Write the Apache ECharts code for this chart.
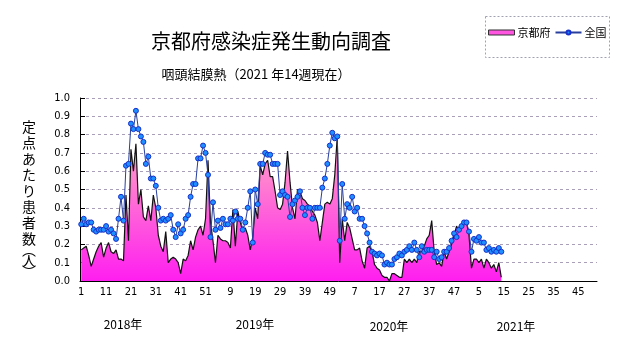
<!DOCTYPE html>
<html>
<head>
<meta charset="utf-8">
<script src="https://cdn.jsdelivr.net/npm/echarts@6/dist/echarts.min.js"></script>
<style>
html,body{margin:0;padding:0;background:#fff;}
#c{width:631px;height:347px;}
</style>
</head>
<body>
<div id="c"></div>
<script>
// ---- data ----
const years = [2018, 2019, 2020, 2021];
const weeksPerYear = 52;
const yearLabels = ['2018年', '2019年', '2020年', '2021年'];
const titleText = '京都府感染症発生動向調査';
const subtitleText = '咽頭結膜熱（2021 年14週現在）';
const yAxisName = '定点あたり患者数︵人︶';
const seriesNames = ['京都府', '全国'];

const kyoto = [
0.17,0.18,0.19,0.14,0.08,0.12,0.16,0.19,0.21,0.13,
0.18,0.21,0.16,0.15,0.17,0.12,0.12,0.11,0.47,0.22,
0.72,0.60,0.75,0.42,0.50,0.35,0.33,0.41,0.33,0.47,
0.40,0.25,0.19,0.16,0.27,0.10,0.12,0.13,0.12,0.10,
0.04,0.12,0.11,0.14,0.22,0.17,0.24,0.28,0.30,0.25,
0.34,0.66,0.32,0.22,0.10,0.25,0.23,0.22,0.22,0.21,
0.18,0.39,0.19,0.38,0.32,0.27,0.29,0.25,0.17,0.24,
0.40,0.34,0.63,0.58,0.64,0.66,0.57,0.57,0.49,0.40,
0.39,0.42,0.54,0.71,0.54,0.40,0.34,0.50,0.49,0.45,
0.44,0.42,0.41,0.38,0.36,0.32,0.22,0.32,0.42,0.43,
0.42,0.45,0.58,0.79,0.10,0.34,0.22,0.32,0.29,0.23,
0.17,0.17,0.18,0.11,0.07,0.18,0.19,0.16,0.09,0.07,
0.06,0.03,0.02,0.02,0.00,0.04,0.04,0.03,0.02,0.02,
0.12,0.10,0.12,0.10,0.12,0.10,0.16,0.16,0.19,0.23,
0.25,0.33,0.16,0.09,0.10,0.08,0.16,0.12,0.16,0.20,
0.25,0.30,0.27,0.31,0.33,0.32,0.25,0.07,0.12,0.12,
0.10,0.12,0.07,0.12,0.10,0.07,0.09,0.05,0.10,0.02
];

const national = [
0.31,0.34,0.31,0.32,0.32,0.28,0.27,0.28,0.28,0.28,
0.30,0.27,0.28,0.26,0.23,0.34,0.46,0.33,0.63,0.64,
0.86,0.83,0.93,0.83,0.79,0.76,0.64,0.68,0.56,0.56,
0.52,0.40,0.33,0.34,0.33,0.34,0.36,0.28,0.24,0.31,
0.26,0.28,0.34,0.36,0.46,0.53,0.53,0.67,0.67,0.74,
0.70,0.58,0.24,0.43,0.28,0.33,0.29,0.34,0.31,0.31,
0.34,0.33,0.38,0.34,0.34,0.28,0.32,0.40,0.49,0.21,
0.50,0.42,0.64,0.64,0.70,0.69,0.69,0.64,0.64,0.64,
0.47,0.49,0.47,0.46,0.35,0.42,0.44,0.46,0.49,0.40,
0.36,0.40,0.40,0.34,0.40,0.40,0.40,0.51,0.56,0.64,
0.74,0.81,0.78,0.79,0.22,0.53,0.34,0.42,0.40,0.46,
0.38,0.40,0.34,0.34,0.30,0.26,0.21,0.16,0.15,0.14,
0.15,0.14,0.09,0.10,0.09,0.09,0.12,0.13,0.15,0.14,
0.16,0.17,0.19,0.17,0.21,0.17,0.13,0.19,0.16,0.17,
0.17,0.17,0.13,0.16,0.12,0.13,0.16,0.16,0.18,0.22,
0.26,0.24,0.28,0.30,0.32,0.32,0.27,0.16,0.23,0.22,
0.24,0.21,0.21,0.17,0.18,0.16,0.17,0.16,0.18,0.16
];

// category labels: week numbers for each year
const categories = [];
years.forEach(function(){ for (let w = 1; w <= weeksPerYear; w++) categories.push(String(w)); });

const chart = echarts.init(document.getElementById('c'), null, {renderer:'canvas'});
const jp = '"Noto Sans CJK JP", "Noto Sans", sans-serif';
const narrow = '"Liberation Sans Narrow", "DejaVu Sans Condensed", "Liberation Sans", sans-serif';

const yearPos = [123, 255, 389, 516];

// vertical y-axis name, one glyph per element
const yNameEls = [];
(function(){
  let y = 127;
  const chars = yAxisName.split('');
  chars.forEach(function(ch, k){
    const isParen = (ch === '︵' || ch === '︶');
    if (k > 0) {
      const prev = chars[k-1];
      const prevParen = (prev === '︵' || prev === '︶');
      y += (isParen || prevParen) ? 11 : 16;
    }
    yNameEls.push({type: 'text', x: 29, y: y, silent: true,
      style: {text: ch, fontSize: 14, fill: '#000', fontFamily: jp,
        align: 'center', verticalAlign: 'middle'}});
  });
})();

chart.setOption({
  animation: false,
  backgroundColor: '#fff',
  title: [
    {text: titleText, left: 266, top: 26, textAlign: 'center',
     textStyle: {fontSize: 20, fontWeight: 'normal', color: '#000', fontFamily: jp}},
    {text: subtitleText, left: 251, top: 63, textAlign: 'center',
     textStyle: {fontSize: 13, fontWeight: 'normal', color: '#000', fontFamily: jp}}
  ],
  legend: {
    left: 484, top: 15, itemWidth: 26, itemHeight: 5, itemGap: 4,
    padding: [12, 4], selectedMode: false,
    textStyle: {fontSize: 11, color: '#000', fontFamily: jp, padding: [0,0,0,-2]},
    data: [
      {name: seriesNames[0], icon: 'rect',
       itemStyle: {color: '#ff55e0', borderColor: '#333', borderWidth: 1}},
      {name: seriesNames[1]}
    ]
  },
  grid: {left: 80, right: 34, top: 98, bottom: 66, containLabel: false},
  xAxis: {
    type: 'category', data: categories, boundaryGap: true,
    axisLine: {lineStyle: {color: '#000', width: 1}},
    axisTick: {interval: 4, length: 3, lineStyle: {color: '#000'}},
    axisLabel: {interval: 9, fontSize: 11, color: '#000', margin: 6, fontFamily: narrow},
    splitLine: {show: false}
  },
  yAxis: {
    type: 'value', min: 0, max: 1, interval: 0.1,
    axisLine: {show: true, lineStyle: {color: '#000', width: 1}},
    axisTick: {show: true, inside: true, length: 5, lineStyle: {color: '#000'}},
    axisLabel: {fontSize: 11, color: '#000', margin: 10, fontFamily: narrow,
      formatter: function(v){ return v.toFixed(1); }},
    splitLine: {show: true, lineStyle: {color: '#a99fb8', type: [3, 3], width: 1}}
  },
  series: [
    {
      name: seriesNames[0], type: 'line', data: kyoto, symbol: 'none',
      lineStyle: {color: '#111', width: 1.2},
      itemStyle: {color: '#ff55e0'},
      areaStyle: {
        opacity: 1,
        color: new echarts.graphic.LinearGradient(0, 98, 0, 281, [
          {offset: 0, color: '#ffb0d0'},
          {offset: 0.45, color: '#ff80d0'},
          {offset: 1, color: '#ff1ef0'}
        ], true)
      },
      z: 2
    },
    {
      name: seriesNames[1], type: 'line', data: national,
      symbol: 'circle', symbolSize: 5, showSymbol: true, showAllSymbol: true,
      lineStyle: {color: '#283f9e', width: 1},
      itemStyle: {color: '#1e8fff', borderColor: '#1a30c8', borderWidth: 1},
      z: 3
    }
  ],
  graphic: [
    {type: 'rect', left: 483, top: 14, z: 0, silent: true,
     shape: {width: 124, height: 41},
     style: {fill: 'none', stroke: '#a0a0b0', lineWidth: 1, lineDash: [2, 2]}}
  ].concat(yNameEls).concat(yearLabels.map(function(t, k){
    return {type: 'text', x: yearPos[k], y: 318 + (k >= 2 ? 2 : 0), silent: true,
      style: {text: t, fontSize: 12, fill: '#000', fontFamily: jp, align: 'center'}};
  }))
});
</script>
</body>
</html>
